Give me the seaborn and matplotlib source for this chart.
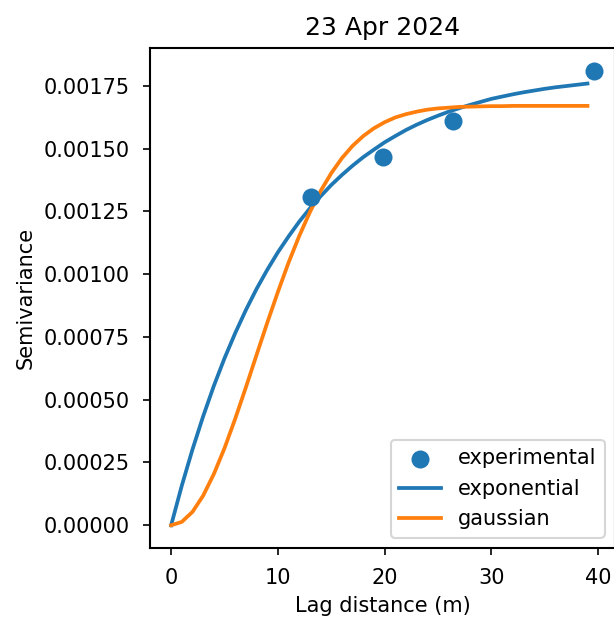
import numpy as np
import pandas as pd
import matplotlib
matplotlib.use("Agg")
import matplotlib.pyplot as plt
import seaborn as sns

# experimental semivariogram points
exp_lag = [13.1, 19.85, 26.4, 39.6]
exp_gamma = [0.001307, 0.001467, 0.001610, 0.001810]

# fitted model curves at integer lags
model_lag = list(range(0, 40))
exponential_gamma = [
    0.0, 0.000158, 0.000302, 0.000434, 0.000555, 0.000665, 0.000765, 0.000857,
    0.000941, 0.001017, 0.001087, 0.001150, 0.001209, 0.001262, 0.001310, 0.001355,
    0.001395, 0.001432, 0.001466, 0.001496, 0.001525, 0.001550, 0.001574, 0.001595,
    0.001614, 0.001631, 0.001647, 0.001661, 0.001674, 0.001686, 0.001698, 0.001707,
    0.001716, 0.001724, 0.001731, 0.001738, 0.001744, 0.001749, 0.001754, 0.001759,
]
gaussian_gamma = [
    0.0, 0.0000135, 0.0000534, 0.000118, 0.000204, 0.000307, 0.000424, 0.000549,
    0.000678, 0.000806, 0.000929, 0.001046, 0.001152, 0.001247, 0.001331, 0.001402,
    0.001462, 0.001511, 0.001550, 0.001581, 0.001605, 0.001624, 0.001637, 0.001647,
    0.001655, 0.001660, 0.001663, 0.001666, 0.001667, 0.001668, 0.001669, 0.001669,
    0.001670, 0.001670, 0.001670, 0.001670, 0.001670, 0.001670, 0.001670, 0.001670,
]

title = "23 Apr 2024"

pts = pd.DataFrame({"lag": exp_lag, "gamma": exp_gamma})
models = pd.DataFrame({
    "lag": model_lag + model_lag,
    "gamma": exponential_gamma + gaussian_gamma,
    "model": ["exponential"] * len(model_lag) + ["gaussian"] * len(model_lag),
})

plt.rcParams["axes.linewidth"] = 1.0

fig = plt.figure(figsize=(614 / 150, 618 / 150), dpi=150)
ax = fig.add_axes([150 / 614, 70 / 618, 465 / 614, 500 / 618])

sns.scatterplot(data=pts, x="lag", y="gamma", s=75, color="C0", linewidth=0,
                label="experimental", ax=ax, zorder=3)
sns.lineplot(data=models, x="lag", y="gamma", hue="model",
             palette=["C0", "C1"], linewidth=1.8, ax=ax, estimator=None)

ax.tick_params(pad=6)
ax.set_xlabel("Lag distance (m)")
ax.set_ylabel("Semivariance")
ax.set_title(title, fontsize=12)
ax.legend(loc="lower right", fontsize=10)

fig.savefig("out.png", dpi=150)
